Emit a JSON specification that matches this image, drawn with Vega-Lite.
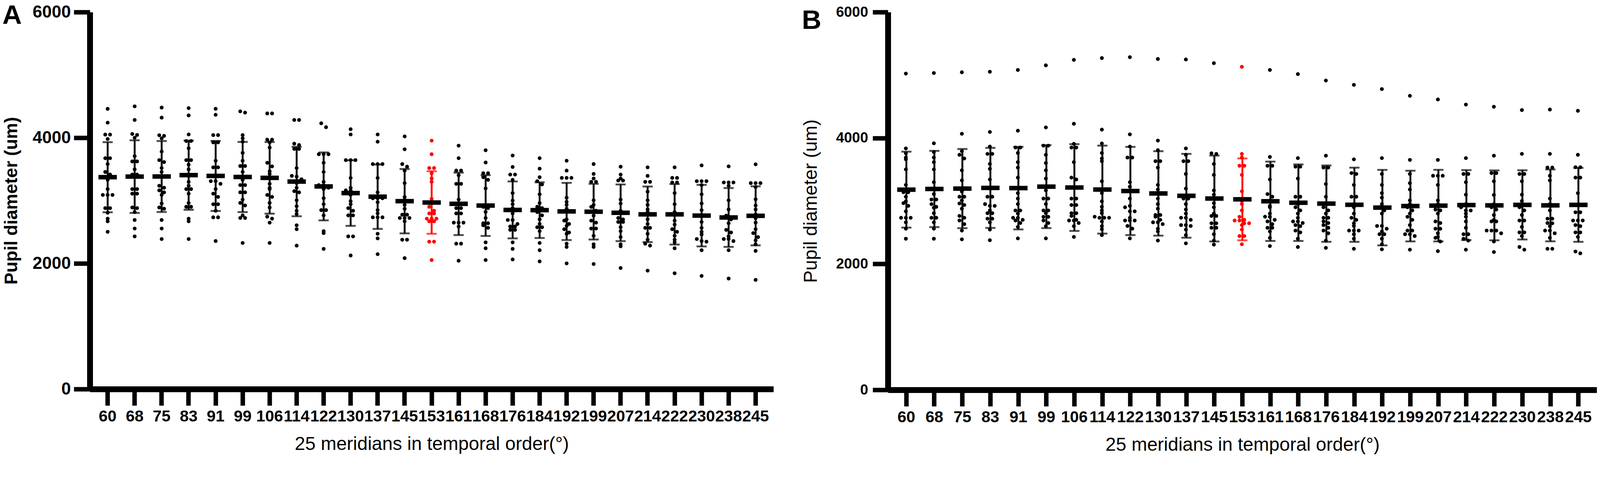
{
  "$schema": "https://vega.github.io/schema/vega-lite/v6.json",
  "background": "white",
  "padding": {"left": 6, "top": 6, "right": 0, "bottom": 0},
  "spacing": 72,
  "config": {
    "view": {"stroke": null},
    "axis": {
      "domainColor": "black",
      "tickColor": "black",
      "labelColor": "black",
      "titleColor": "black",
      "labelFont": "Liberation Sans",
      "titleFont": "Liberation Sans",
      "grid": false
    }
  },
  "datasets": {
    "a": [
      {"m":60,"v":4460},{"m":60,"v":4240},{"m":60,"v":4050},{"m":60,"v":4050},{"m":60,"v":3980},{"m":60,"v":3675},{"m":60,"v":3675},{"m":60,"v":3580},{"m":60,"v":3455},{"m":60,"v":3415},{"m":60,"v":3330},{"m":60,"v":3183},{"m":60,"v":3090},{"m":60,"v":3090},{"m":60,"v":3090},{"m":60,"v":2880},{"m":60,"v":2880},{"m":60,"v":2806},{"m":60,"v":2712},{"m":60,"v":2670},{"m":60,"v":2503},
      {"m":68,"v":4500},{"m":68,"v":4283},{"m":68,"v":4060},{"m":68,"v":4045},{"m":68,"v":4000},{"m":68,"v":3707},{"m":68,"v":3623},{"m":68,"v":3623},{"m":68,"v":3497},{"m":68,"v":3414},{"m":68,"v":3414},{"m":68,"v":3183},{"m":68,"v":3183},{"m":68,"v":3110},{"m":68,"v":3110},{"m":68,"v":2890},{"m":68,"v":2880},{"m":68,"v":2817},{"m":68,"v":2691},{"m":68,"v":2555},{"m":68,"v":2430},
      {"m":75,"v":4480},{"m":75,"v":4320},{"m":75,"v":4040},{"m":75,"v":4030},{"m":75,"v":3990},{"m":75,"v":3780},{"m":75,"v":3644},{"m":75,"v":3613},{"m":75,"v":3518},{"m":75,"v":3456},{"m":75,"v":3393},{"m":75,"v":3236},{"m":75,"v":3204},{"m":75,"v":3162},{"m":75,"v":3131},{"m":75,"v":3089},{"m":75,"v":2953},{"m":75,"v":2890},{"m":75,"v":2870},{"m":75,"v":2691},{"m":75,"v":2555},{"m":75,"v":2388},
      {"m":83,"v":4471},{"m":83,"v":4356},{"m":83,"v":4052},{"m":83,"v":3948},{"m":83,"v":3948},{"m":83,"v":3832},{"m":83,"v":3644},{"m":83,"v":3644},{"m":83,"v":3571},{"m":83,"v":3497},{"m":83,"v":3393},{"m":83,"v":3298},{"m":83,"v":3236},{"m":83,"v":3183},{"m":83,"v":3183},{"m":83,"v":3110},{"m":83,"v":2963},{"m":83,"v":2901},{"m":83,"v":2901},{"m":83,"v":2712},{"m":83,"v":2670},{"m":83,"v":2388},
      {"m":91,"v":4461},{"m":91,"v":4366},{"m":91,"v":4042},{"m":91,"v":4042},{"m":91,"v":3927},{"m":91,"v":3927},{"m":91,"v":3634},{"m":91,"v":3529},{"m":91,"v":3529},{"m":91,"v":3393},{"m":91,"v":3309},{"m":91,"v":3309},{"m":91,"v":3267},{"m":91,"v":3183},{"m":91,"v":3110},{"m":91,"v":3058},{"m":91,"v":2942},{"m":91,"v":2942},{"m":91,"v":2838},{"m":91,"v":2733},{"m":91,"v":2733},{"m":91,"v":2356},
      {"m":99,"v":4420},{"m":99,"v":4400},{"m":99,"v":4042},{"m":99,"v":3990},{"m":99,"v":3937},{"m":99,"v":3759},{"m":99,"v":3634},{"m":99,"v":3550},{"m":99,"v":3550},{"m":99,"v":3456},{"m":99,"v":3330},{"m":99,"v":3246},{"m":99,"v":3246},{"m":99,"v":3131},{"m":99,"v":3131},{"m":99,"v":3016},{"m":99,"v":2963},{"m":99,"v":2922},{"m":99,"v":2765},{"m":99,"v":2723},{"m":99,"v":2723},{"m":99,"v":2325},
      {"m":106,"v":4387},{"m":106,"v":4387},{"m":106,"v":3969},{"m":106,"v":3969},{"m":106,"v":3927},{"m":106,"v":3843},{"m":106,"v":3602},{"m":106,"v":3544},{"m":106,"v":3466},{"m":106,"v":3424},{"m":106,"v":3267},{"m":106,"v":3204},{"m":106,"v":3183},{"m":106,"v":3089},{"m":106,"v":3058},{"m":106,"v":2963},{"m":106,"v":2890},{"m":106,"v":2744},{"m":106,"v":2712},{"m":106,"v":2649},{"m":106,"v":2325},
      {"m":114,"v":4283},{"m":114,"v":4283},{"m":114,"v":3906},{"m":114,"v":3885},{"m":114,"v":3822},{"m":114,"v":3822},{"m":114,"v":3518},{"m":114,"v":3393},{"m":114,"v":3382},{"m":114,"v":3340},{"m":114,"v":3278},{"m":114,"v":3204},{"m":114,"v":3150},{"m":114,"v":3131},{"m":114,"v":3005},{"m":114,"v":2911},{"m":114,"v":2838},{"m":114,"v":2786},{"m":114,"v":2607},{"m":114,"v":2545},{"m":114,"v":2283},
      {"m":122,"v":4230},{"m":122,"v":4168},{"m":122,"v":3738},{"m":122,"v":3738},{"m":122,"v":3738},{"m":122,"v":3602},{"m":122,"v":3456},{"m":122,"v":3298},{"m":122,"v":3246},{"m":122,"v":3246},{"m":122,"v":3204},{"m":122,"v":3183},{"m":122,"v":3037},{"m":122,"v":2942},{"m":122,"v":2848},{"m":122,"v":2848},{"m":122,"v":2765},{"m":122,"v":2513},{"m":122,"v":2482},{"m":122,"v":2231},
      {"m":130,"v":4136},{"m":130,"v":4052},{"m":130,"v":3644},{"m":130,"v":3644},{"m":130,"v":3644},{"m":130,"v":3361},{"m":130,"v":3204},{"m":130,"v":3162},{"m":130,"v":3162},{"m":130,"v":3120},{"m":130,"v":3090},{"m":130,"v":2990},{"m":130,"v":2942},{"m":130,"v":2880},{"m":130,"v":2838},{"m":130,"v":2765},{"m":130,"v":2765},{"m":130,"v":2430},{"m":130,"v":2430},{"m":130,"v":2126},
      {"m":137,"v":4052},{"m":137,"v":3937},{"m":137,"v":3581},{"m":137,"v":3581},{"m":137,"v":3581},{"m":137,"v":3361},{"m":137,"v":3131},{"m":137,"v":3037},{"m":137,"v":3037},{"m":137,"v":3037},{"m":137,"v":2974},{"m":137,"v":2848},{"m":137,"v":2796},{"m":137,"v":2733},{"m":137,"v":2733},{"m":137,"v":2733},{"m":137,"v":2472},{"m":137,"v":2398},{"m":137,"v":2147},
      {"m":145,"v":4021},{"m":145,"v":3816},{"m":145,"v":3581},{"m":145,"v":3539},{"m":145,"v":3477},{"m":145,"v":3278},{"m":145,"v":3058},{"m":145,"v":3016},{"m":145,"v":2932},{"m":145,"v":2870},{"m":145,"v":2775},{"m":145,"v":2775},{"m":145,"v":2723},{"m":145,"v":2723},{"m":145,"v":2723},{"m":145,"v":2670},{"m":145,"v":2377},{"m":145,"v":2377},{"m":145,"v":2084},
      {"m":153,"v":3954},{"m":153,"v":3738},{"m":153,"v":3518},{"m":153,"v":3518},{"m":153,"v":3435},{"m":153,"v":3351},{"m":153,"v":3298},{"m":153,"v":3026},{"m":153,"v":2901},{"m":153,"v":2838},{"m":153,"v":2796},{"m":153,"v":2796},{"m":153,"v":2712},{"m":153,"v":2712},{"m":153,"v":2712},{"m":153,"v":2670},{"m":153,"v":2670},{"m":153,"v":2346},{"m":153,"v":2346},{"m":153,"v":2053},
      {"m":161,"v":3874},{"m":161,"v":3675},{"m":161,"v":3477},{"m":161,"v":3477},{"m":161,"v":3403},{"m":161,"v":3267},{"m":161,"v":3267},{"m":161,"v":3016},{"m":161,"v":2880},{"m":161,"v":2880},{"m":161,"v":2796},{"m":161,"v":2796},{"m":161,"v":2649},{"m":161,"v":2649},{"m":161,"v":2649},{"m":161,"v":2587},{"m":161,"v":2314},{"m":161,"v":2314},{"m":161,"v":2042},
      {"m":168,"v":3801},{"m":168,"v":3606},{"m":168,"v":3435},{"m":168,"v":3435},{"m":168,"v":3372},{"m":168,"v":3330},{"m":168,"v":3194},{"m":168,"v":2922},{"m":168,"v":2900},{"m":168,"v":2880},{"m":168,"v":2820},{"m":168,"v":2723},{"m":168,"v":2639},{"m":168,"v":2639},{"m":168,"v":2607},{"m":168,"v":2566},{"m":168,"v":2335},{"m":168,"v":2241},{"m":168,"v":2053},
      {"m":176,"v":3717},{"m":176,"v":3535},{"m":176,"v":3414},{"m":176,"v":3414},{"m":176,"v":3330},{"m":176,"v":3120},{"m":176,"v":3000},{"m":176,"v":2942},{"m":176,"v":2880},{"m":176,"v":2796},{"m":176,"v":2691},{"m":176,"v":2691},{"m":176,"v":2628},{"m":176,"v":2587},{"m":176,"v":2587},{"m":176,"v":2534},{"m":176,"v":2534},{"m":176,"v":2335},{"m":176,"v":2231},{"m":176,"v":2063},
      {"m":184,"v":3675},{"m":184,"v":3508},{"m":184,"v":3372},{"m":184,"v":3309},{"m":184,"v":3257},{"m":184,"v":3100},{"m":184,"v":2960},{"m":184,"v":2901},{"m":184,"v":2880},{"m":184,"v":2817},{"m":184,"v":2765},{"m":184,"v":2702},{"m":184,"v":2628},{"m":184,"v":2576},{"m":184,"v":2576},{"m":184,"v":2513},{"m":184,"v":2325},{"m":184,"v":2210},{"m":184,"v":2032},
      {"m":192,"v":3634},{"m":192,"v":3477},{"m":192,"v":3361},{"m":192,"v":3361},{"m":192,"v":3361},{"m":192,"v":3047},{"m":192,"v":2980},{"m":192,"v":2932},{"m":192,"v":2870},{"m":192,"v":2700},{"m":192,"v":2681},{"m":192,"v":2628},{"m":192,"v":2597},{"m":192,"v":2545},{"m":192,"v":2492},{"m":192,"v":2472},{"m":192,"v":2314},{"m":192,"v":2262},{"m":192,"v":2000},
      {"m":199,"v":3581},{"m":199,"v":3424},{"m":199,"v":3351},{"m":199,"v":3298},{"m":199,"v":3298},{"m":199,"v":3005},{"m":199,"v":2932},{"m":199,"v":2900},{"m":199,"v":2838},{"m":199,"v":2760},{"m":199,"v":2681},{"m":199,"v":2649},{"m":199,"v":2555},{"m":199,"v":2555},{"m":199,"v":2440},{"m":199,"v":2304},{"m":199,"v":2262},{"m":199,"v":1990},
      {"m":207,"v":3539},{"m":207,"v":3414},{"m":207,"v":3351},{"m":207,"v":3319},{"m":207,"v":3319},{"m":207,"v":3016},{"m":207,"v":2953},{"m":207,"v":2838},{"m":207,"v":2723},{"m":207,"v":2700},{"m":207,"v":2660},{"m":207,"v":2660},{"m":207,"v":2576},{"m":207,"v":2513},{"m":207,"v":2419},{"m":207,"v":2304},{"m":207,"v":2272},{"m":207,"v":1927},
      {"m":214,"v":3529},{"m":214,"v":3393},{"m":214,"v":3298},{"m":214,"v":3298},{"m":214,"v":3141},{"m":214,"v":3005},{"m":214,"v":2932},{"m":214,"v":2860},{"m":214,"v":2817},{"m":214,"v":2702},{"m":214,"v":2628},{"m":214,"v":2566},{"m":214,"v":2566},{"m":214,"v":2472},{"m":214,"v":2377},{"m":214,"v":2314},{"m":214,"v":2283},{"m":214,"v":1885},
      {"m":222,"v":3529},{"m":222,"v":3361},{"m":222,"v":3361},{"m":222,"v":3288},{"m":222,"v":3288},{"m":222,"v":3120},{"m":222,"v":2942},{"m":222,"v":2817},{"m":222,"v":2681},{"m":222,"v":2618},{"m":222,"v":2545},{"m":222,"v":2503},{"m":222,"v":2440},{"m":222,"v":2377},{"m":222,"v":2335},{"m":222,"v":2241},{"m":222,"v":1843},
      {"m":230,"v":3560},{"m":230,"v":3309},{"m":230,"v":3309},{"m":230,"v":3309},{"m":230,"v":3246},{"m":230,"v":3100},{"m":230,"v":2953},{"m":230,"v":2848},{"m":230,"v":2660},{"m":230,"v":2566},{"m":230,"v":2503},{"m":230,"v":2461},{"m":230,"v":2388},{"m":230,"v":2356},{"m":230,"v":2346},{"m":230,"v":2210},{"m":230,"v":1801},
      {"m":238,"v":3544},{"m":238,"v":3288},{"m":238,"v":3288},{"m":238,"v":3288},{"m":238,"v":3236},{"m":238,"v":3005},{"m":238,"v":2859},{"m":238,"v":2760},{"m":238,"v":2700},{"m":238,"v":2639},{"m":238,"v":2534},{"m":238,"v":2492},{"m":238,"v":2430},{"m":238,"v":2388},{"m":238,"v":2388},{"m":238,"v":2356},{"m":238,"v":2210},{"m":238,"v":1759},
      {"m":245,"v":3577},{"m":245,"v":3278},{"m":245,"v":3278},{"m":245,"v":3278},{"m":245,"v":3215},{"m":245,"v":3020},{"m":245,"v":2922},{"m":245,"v":2859},{"m":245,"v":2780},{"m":245,"v":2720},{"m":245,"v":2649},{"m":245,"v":2545},{"m":245,"v":2482},{"m":245,"v":2419},{"m":245,"v":2367},{"m":245,"v":2304},{"m":245,"v":2199},{"m":245,"v":1738}
    ],
    "b": [
      {"m":60,"v":5023},{"m":60,"v":3835},{"m":60,"v":3757},{"m":60,"v":3690},{"m":60,"v":3661},{"m":60,"v":3501},{"m":60,"v":3255},{"m":60,"v":3139},{"m":60,"v":3139},{"m":60,"v":3067},{"m":60,"v":2994},{"m":60,"v":2965},{"m":60,"v":2922},{"m":60,"v":2835},{"m":60,"v":2733},{"m":60,"v":2733},{"m":60,"v":2733},{"m":60,"v":2661},{"m":60,"v":2559},{"m":60,"v":2400},
      {"m":68,"v":5032},{"m":68,"v":3916},{"m":68,"v":3777},{"m":68,"v":3690},{"m":68,"v":3617},{"m":68,"v":3501},{"m":68,"v":3298},{"m":68,"v":3180},{"m":68,"v":3110},{"m":68,"v":3023},{"m":68,"v":3023},{"m":68,"v":2950},{"m":68,"v":2907},{"m":68,"v":2893},{"m":68,"v":2806},{"m":68,"v":2733},{"m":68,"v":2733},{"m":68,"v":2661},{"m":68,"v":2559},{"m":68,"v":2400},
      {"m":75,"v":5044},{"m":75,"v":4067},{"m":75,"v":3791},{"m":75,"v":3733},{"m":75,"v":3675},{"m":75,"v":3487},{"m":75,"v":3327},{"m":75,"v":3150},{"m":75,"v":3067},{"m":75,"v":3067},{"m":75,"v":3009},{"m":75,"v":2960},{"m":75,"v":2936},{"m":75,"v":2878},{"m":75,"v":2762},{"m":75,"v":2733},{"m":75,"v":2690},{"m":75,"v":2632},{"m":75,"v":2530},{"m":75,"v":2391},
      {"m":83,"v":5052},{"m":83,"v":4096},{"m":83,"v":3864},{"m":83,"v":3748},{"m":83,"v":3748},{"m":83,"v":3588},{"m":83,"v":3510},{"m":83,"v":3342},{"m":83,"v":3067},{"m":83,"v":3067},{"m":83,"v":2950},{"m":83,"v":2922},{"m":83,"v":2922},{"m":83,"v":2850},{"m":83,"v":2806},{"m":83,"v":2806},{"m":83,"v":2719},{"m":83,"v":2719},{"m":83,"v":2661},{"m":83,"v":2545},{"m":83,"v":2377},
      {"m":91,"v":5081},{"m":91,"v":4116},{"m":91,"v":3849},{"m":91,"v":3849},{"m":91,"v":3762},{"m":91,"v":3617},{"m":91,"v":3530},{"m":91,"v":3371},{"m":91,"v":3125},{"m":91,"v":3038},{"m":91,"v":2951},{"m":91,"v":2849},{"m":91,"v":2849},{"m":91,"v":2800},{"m":91,"v":2733},{"m":91,"v":2733},{"m":91,"v":2700},{"m":91,"v":2690},{"m":91,"v":2650},{"m":91,"v":2588},{"m":91,"v":2406},
      {"m":99,"v":5154},{"m":99,"v":4168},{"m":99,"v":3878},{"m":99,"v":3878},{"m":99,"v":3733},{"m":99,"v":3603},{"m":99,"v":3487},{"m":99,"v":3356},{"m":99,"v":3168},{"m":99,"v":3038},{"m":99,"v":3038},{"m":99,"v":2951},{"m":99,"v":2849},{"m":99,"v":2849},{"m":99,"v":2806},{"m":99,"v":2748},{"m":99,"v":2748},{"m":99,"v":2690},{"m":99,"v":2650},{"m":99,"v":2600},{"m":99,"v":2406},
      {"m":106,"v":5241},{"m":106,"v":4226},{"m":106,"v":3907},{"m":106,"v":3849},{"m":106,"v":3849},{"m":106,"v":3617},{"m":106,"v":3371},{"m":106,"v":3342},{"m":106,"v":3038},{"m":106,"v":3038},{"m":106,"v":2936},{"m":106,"v":2936},{"m":106,"v":2806},{"m":106,"v":2806},{"m":106,"v":2762},{"m":106,"v":2700},{"m":106,"v":2690},{"m":106,"v":2690},{"m":106,"v":2650},{"m":106,"v":2600},{"m":106,"v":2429},
      {"m":114,"v":5270},{"m":114,"v":4133},{"m":114,"v":3913},{"m":114,"v":3762},{"m":114,"v":3675},{"m":114,"v":3632},{"m":114,"v":3313},{"m":114,"v":3125},{"m":114,"v":2994},{"m":114,"v":2907},{"m":114,"v":2850},{"m":114,"v":2806},{"m":114,"v":2750},{"m":114,"v":2733},{"m":114,"v":2733},{"m":114,"v":2733},{"m":114,"v":2675},{"m":114,"v":2600},{"m":114,"v":2550},{"m":114,"v":2458},
      {"m":122,"v":5284},{"m":122,"v":4058},{"m":122,"v":3864},{"m":122,"v":3690},{"m":122,"v":3690},{"m":122,"v":3298},{"m":122,"v":3226},{"m":122,"v":3038},{"m":122,"v":2922},{"m":122,"v":2900},{"m":122,"v":2835},{"m":122,"v":2835},{"m":122,"v":2733},{"m":122,"v":2690},{"m":122,"v":2690},{"m":122,"v":2690},{"m":122,"v":2603},{"m":122,"v":2560},{"m":122,"v":2406},
      {"m":130,"v":5255},{"m":130,"v":3959},{"m":130,"v":3806},{"m":130,"v":3632},{"m":130,"v":3632},{"m":130,"v":3530},{"m":130,"v":3255},{"m":130,"v":3182},{"m":130,"v":3038},{"m":130,"v":2950},{"m":130,"v":2878},{"m":130,"v":2777},{"m":130,"v":2777},{"m":130,"v":2750},{"m":130,"v":2700},{"m":130,"v":2661},{"m":130,"v":2661},{"m":130,"v":2632},{"m":130,"v":2559},{"m":130,"v":2516},{"m":130,"v":2371},
      {"m":137,"v":5247},{"m":137,"v":3835},{"m":137,"v":3733},{"m":137,"v":3632},{"m":137,"v":3632},{"m":137,"v":3429},{"m":137,"v":3197},{"m":137,"v":3038},{"m":137,"v":3038},{"m":137,"v":2950},{"m":137,"v":2864},{"m":137,"v":2800},{"m":137,"v":2733},{"m":137,"v":2733},{"m":137,"v":2700},{"m":137,"v":2617},{"m":137,"v":2617},{"m":137,"v":2603},{"m":137,"v":2545},{"m":137,"v":2458},{"m":137,"v":2327},
      {"m":145,"v":5189},{"m":145,"v":3757},{"m":145,"v":3748},{"m":145,"v":3588},{"m":145,"v":3414},{"m":145,"v":3168},{"m":145,"v":3100},{"m":145,"v":2965},{"m":145,"v":2900},{"m":145,"v":2800},{"m":145,"v":2762},{"m":145,"v":2762},{"m":145,"v":2646},{"m":145,"v":2646},{"m":145,"v":2574},{"m":145,"v":2574},{"m":145,"v":2472},{"m":145,"v":2371},{"m":145,"v":2307},
      {"m":153,"v":5131},{"m":153,"v":3748},{"m":153,"v":3690},{"m":153,"v":3559},{"m":153,"v":3559},{"m":153,"v":3414},{"m":153,"v":3154},{"m":153,"v":3000},{"m":153,"v":2951},{"m":153,"v":2850},{"m":153,"v":2748},{"m":153,"v":2700},{"m":153,"v":2690},{"m":153,"v":2690},{"m":153,"v":2646},{"m":153,"v":2646},{"m":153,"v":2617},{"m":153,"v":2545},{"m":153,"v":2443},{"m":153,"v":2443},{"m":153,"v":2313},
      {"m":161,"v":5081},{"m":161,"v":3699},{"m":161,"v":3559},{"m":161,"v":3559},{"m":161,"v":3342},{"m":161,"v":3110},{"m":161,"v":3067},{"m":161,"v":2922},{"m":161,"v":2900},{"m":161,"v":2800},{"m":161,"v":2750},{"m":161,"v":2748},{"m":161,"v":2700},{"m":161,"v":2675},{"m":161,"v":2632},{"m":161,"v":2574},{"m":161,"v":2574},{"m":161,"v":2516},{"m":161,"v":2414},{"m":161,"v":2284},
      {"m":168,"v":5015},{"m":168,"v":3681},{"m":168,"v":3545},{"m":168,"v":3545},{"m":168,"v":3356},{"m":168,"v":3067},{"m":168,"v":3067},{"m":168,"v":2951},{"m":168,"v":2900},{"m":168,"v":2850},{"m":168,"v":2800},{"m":168,"v":2733},{"m":168,"v":2675},{"m":168,"v":2675},{"m":168,"v":2650},{"m":168,"v":2617},{"m":168,"v":2600},{"m":168,"v":2530},{"m":168,"v":2501},{"m":168,"v":2400},{"m":168,"v":2269},
      {"m":176,"v":4913},{"m":176,"v":3719},{"m":176,"v":3530},{"m":176,"v":3530},{"m":176,"v":3269},{"m":176,"v":3067},{"m":176,"v":2951},{"m":176,"v":2900},{"m":176,"v":2850},{"m":176,"v":2800},{"m":176,"v":2733},{"m":176,"v":2733},{"m":176,"v":2675},{"m":176,"v":2650},{"m":176,"v":2617},{"m":176,"v":2574},{"m":176,"v":2530},{"m":176,"v":2487},{"m":176,"v":2371},{"m":176,"v":2255},
      {"m":184,"v":4844},{"m":184,"v":3661},{"m":184,"v":3443},{"m":184,"v":3429},{"m":184,"v":3255},{"m":184,"v":3067},{"m":184,"v":3067},{"m":184,"v":2950},{"m":184,"v":2900},{"m":184,"v":2800},{"m":184,"v":2733},{"m":184,"v":2700},{"m":184,"v":2646},{"m":184,"v":2603},{"m":184,"v":2530},{"m":184,"v":2530},{"m":184,"v":2530},{"m":184,"v":2472},{"m":184,"v":2400},{"m":184,"v":2240},
      {"m":192,"v":4777},{"m":192,"v":3681},{"m":192,"v":3429},{"m":192,"v":3255},{"m":192,"v":3125},{"m":192,"v":3053},{"m":192,"v":2950},{"m":192,"v":2900},{"m":192,"v":2850},{"m":192,"v":2800},{"m":192,"v":2603},{"m":192,"v":2603},{"m":192,"v":2559},{"m":192,"v":2516},{"m":192,"v":2472},{"m":192,"v":2472},{"m":192,"v":2400},{"m":192,"v":2313},{"m":192,"v":2232},
      {"m":199,"v":4670},{"m":199,"v":3652},{"m":199,"v":3429},{"m":199,"v":3284},{"m":199,"v":3182},{"m":199,"v":3009},{"m":199,"v":2950},{"m":199,"v":2900},{"m":199,"v":2850},{"m":199,"v":2800},{"m":199,"v":2748},{"m":199,"v":2700},{"m":199,"v":2617},{"m":199,"v":2530},{"m":199,"v":2530},{"m":199,"v":2472},{"m":199,"v":2472},{"m":199,"v":2443},{"m":199,"v":2226},
      {"m":207,"v":4612},{"m":207,"v":3652},{"m":207,"v":3400},{"m":207,"v":3400},{"m":207,"v":3400},{"m":207,"v":3255},{"m":207,"v":3009},{"m":207,"v":2950},{"m":207,"v":2864},{"m":207,"v":2850},{"m":207,"v":2800},{"m":207,"v":2675},{"m":207,"v":2650},{"m":207,"v":2559},{"m":207,"v":2559},{"m":207,"v":2487},{"m":207,"v":2429},{"m":207,"v":2414},{"m":207,"v":2356},{"m":207,"v":2203},
      {"m":214,"v":4531},{"m":214,"v":3681},{"m":214,"v":3429},{"m":214,"v":3429},{"m":214,"v":3298},{"m":214,"v":3100},{"m":214,"v":2951},{"m":214,"v":2900},{"m":214,"v":2850},{"m":214,"v":2849},{"m":214,"v":2800},{"m":214,"v":2750},{"m":214,"v":2675},{"m":214,"v":2574},{"m":214,"v":2472},{"m":214,"v":2472},{"m":214,"v":2400},{"m":214,"v":2371},{"m":214,"v":2226},
      {"m":222,"v":4496},{"m":222,"v":3719},{"m":222,"v":3443},{"m":222,"v":3443},{"m":222,"v":3313},{"m":222,"v":3096},{"m":222,"v":2950},{"m":222,"v":2900},{"m":222,"v":2864},{"m":222,"v":2777},{"m":222,"v":2700},{"m":222,"v":2675},{"m":222,"v":2675},{"m":222,"v":2530},{"m":222,"v":2530},{"m":222,"v":2530},{"m":222,"v":2487},{"m":222,"v":2356},{"m":222,"v":2189},
      {"m":230,"v":4444},{"m":230,"v":3748},{"m":230,"v":3429},{"m":230,"v":3429},{"m":230,"v":3313},{"m":230,"v":3100},{"m":230,"v":3000},{"m":230,"v":2922},{"m":230,"v":2900},{"m":230,"v":2850},{"m":230,"v":2777},{"m":230,"v":2690},{"m":230,"v":2690},{"m":230,"v":2588},{"m":230,"v":2501},{"m":230,"v":2501},{"m":230,"v":2443},{"m":230,"v":2269},{"m":230,"v":2226},
      {"m":238,"v":4452},{"m":238,"v":3748},{"m":238,"v":3530},{"m":238,"v":3530},{"m":238,"v":3400},{"m":238,"v":3327},{"m":238,"v":3038},{"m":238,"v":2950},{"m":238,"v":2850},{"m":238,"v":2719},{"m":238,"v":2719},{"m":238,"v":2650},{"m":238,"v":2646},{"m":238,"v":2600},{"m":238,"v":2530},{"m":238,"v":2530},{"m":238,"v":2487},{"m":238,"v":2414},{"m":238,"v":2240},{"m":238,"v":2240},
      {"m":245,"v":4432},{"m":245,"v":3733},{"m":245,"v":3536},{"m":245,"v":3536},{"m":245,"v":3371},{"m":245,"v":3371},{"m":245,"v":3125},{"m":245,"v":2820},{"m":245,"v":2820},{"m":245,"v":2690},{"m":245,"v":2690},{"m":245,"v":2690},{"m":245,"v":2617},{"m":245,"v":2600},{"m":245,"v":2501},{"m":245,"v":2501},{"m":245,"v":2429},{"m":245,"v":2197},{"m":245,"v":2168}
    ]
  },
  "hconcat": [
    {
      "width": 1750,
      "height": 966,
      "title": {"text": "A", "anchor": "start", "frame": "bounds", "fontSize": 69, "fontWeight": "bold", "font": "Liberation Sans", "color": "black", "offset": -66},
      "data": {"name": "a"},
      "transform": [
        {"calculate": "datum.m == 153 ? '#ff0000' : '#000000'", "as": "c"},
        {"calculate": "round(datum.v / 70)", "as": "bin"},
        {"joinaggregate": [{"op": "count", "as": "n"}], "groupby": ["m", "bin"]},
        {"window": [{"op": "row_number", "as": "r"}], "groupby": ["m", "bin"]},
        {"calculate": "datum.r - 1 - (datum.n - 1) / 2", "as": "off"}
      ],
      "encoding": {
        "x": {
          "field": "m", "type": "ordinal", "title": "25 meridians in temporal order(°)",
          "scale": {"paddingInner": 0, "paddingOuter": 0.16},
          "axis": {"labelAngle": 0, "bandPosition": 0.5, "labelFontSize": 41, "labelFontWeight": "bold", "tickSize": 42, "tickWidth": 11.5, "domainWidth": 15, "labelPadding": 8, "titleFontSize": 48, "titleFontWeight": "normal", "titlePadding": 27}
        },
        "y": {
          "field": "v", "type": "quantitative", "title": "Pupil diameter (um)",
          "scale": {"domain": [0, 6000], "nice": false},
          "axis": {"values": [0, 2000, 4000, 6000], "format": "d", "labelFontSize": 44, "labelFontWeight": "bold", "tickSize": 41, "tickWidth": 11.5, "domainWidth": 15, "labelPadding": 8, "titleFontSize": 46, "titleFontWeight": "bold", "titlePadding": 30}
        }
      },
      "layer": [
        {
          "mark": {"type": "circle", "size": 95, "opacity": 1},
          "encoding": {
            "xOffset": {"field": "off", "type": "quantitative", "scale": {"domain": [-2.8, 2.8], "range": [0, 69.1]}},
            "color": {"field": "c", "type": "nominal", "scale": null, "legend": null}
          }
        },
        {
          "mark": {"type": "errorbar", "extent": "stdev", "ticks": {"size": 26, "thickness": 4.8}, "rule": {"strokeWidth": 4.8}},
          "encoding": {
            "color": {"field": "c", "type": "nominal", "scale": null, "legend": null}
          }
        },
        {
          "mark": {"type": "tick", "thickness": 11.5, "size": 47, "color": "black"},
          "encoding": {
            "y": {"aggregate": "mean", "field": "v", "type": "quantitative", "title": "Pupil diameter (um)"}
          }
        }
      ]
    },
    {
      "width": 1815,
      "height": 968,
      "title": {"text": "B", "anchor": "start", "frame": "bounds", "fontSize": 69, "fontWeight": "bold", "font": "Liberation Sans", "color": "black", "offset": -76},
      "data": {"name": "b"},
      "transform": [
        {"calculate": "datum.m == 153 ? '#ff0000' : '#000000'", "as": "c"},
        {"calculate": "round(datum.v / 70)", "as": "bin"},
        {"joinaggregate": [{"op": "count", "as": "n"}], "groupby": ["m", "bin"]},
        {"window": [{"op": "row_number", "as": "r"}], "groupby": ["m", "bin"]},
        {"calculate": "datum.r - 1 - (datum.n - 1) / 2", "as": "off"}
      ],
      "encoding": {
        "x": {
          "field": "m", "type": "ordinal", "title": "25 meridians in temporal order(°)",
          "scale": {"paddingInner": 0, "paddingOuter": 0.16},
          "axis": {"labelAngle": 0, "bandPosition": 0.5, "labelFontSize": 41, "labelFontWeight": "bold", "tickSize": 42, "tickWidth": 11.5, "domainWidth": 15, "labelPadding": 8, "titleFontSize": 48, "titleFontWeight": "normal", "titlePadding": 27}
        },
        "y": {
          "field": "v", "type": "quantitative", "title": "Pupil diameter (um)",
          "scale": {"domain": [0, 6000], "nice": false},
          "axis": {"values": [0, 2000, 4000, 6000], "format": "d", "labelFontSize": 37, "labelFontWeight": "bold", "tickSize": 39, "tickWidth": 11.5, "domainWidth": 15, "labelPadding": 12, "titleFontSize": 48, "titleFontWeight": "normal", "titlePadding": 39}
        }
      },
      "layer": [
        {
          "mark": {"type": "circle", "size": 95, "opacity": 1},
          "encoding": {
            "xOffset": {"field": "off", "type": "quantitative", "scale": {"domain": [-2.8, 2.8], "range": [0, 71.7]}},
            "color": {"field": "c", "type": "nominal", "scale": null, "legend": null}
          }
        },
        {
          "mark": {"type": "errorbar", "extent": "stdev", "ticks": {"size": 26, "thickness": 4.8}, "rule": {"strokeWidth": 4.8}},
          "encoding": {
            "color": {"field": "c", "type": "nominal", "scale": null, "legend": null}
          }
        },
        {
          "mark": {"type": "tick", "thickness": 11.5, "size": 47, "color": "black"},
          "encoding": {
            "y": {"aggregate": "mean", "field": "v", "type": "quantitative", "title": "Pupil diameter (um)"}
          }
        }
      ]
    }
  ]
}
